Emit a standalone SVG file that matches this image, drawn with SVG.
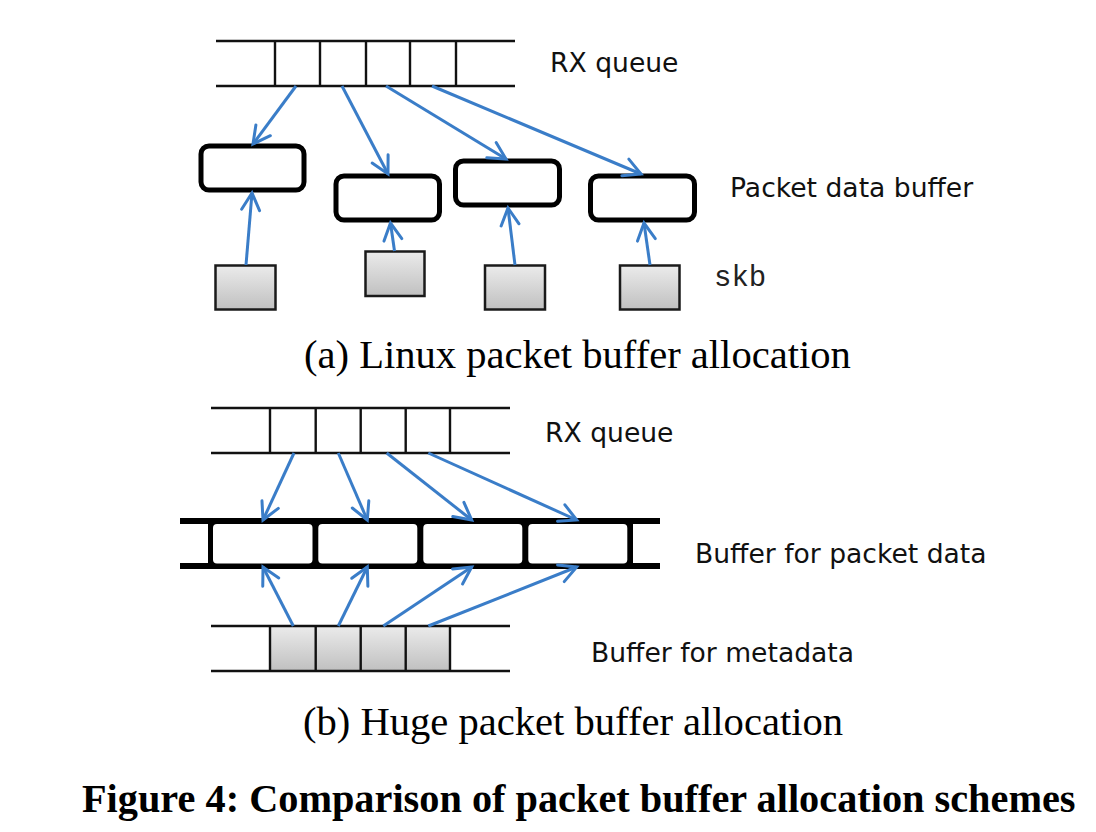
<svg xmlns="http://www.w3.org/2000/svg" width="1096" height="832" viewBox="0 0 1096 832">
  <defs>
    <linearGradient id="gray" x1="0" y1="0" x2="0" y2="1">
      <stop offset="0" stop-color="#ebebeb"/>
      <stop offset="1" stop-color="#c0c0c0"/>
    </linearGradient>
    <marker id="arr" markerUnits="userSpaceOnUse" viewBox="-22 -12 26 24" refX="0" refY="0" markerWidth="26" markerHeight="24" orient="auto" overflow="visible">
      <path d="M-17,-9 L0,0 L-17,9" fill="none" stroke="#3A7DC8" stroke-width="3" stroke-linecap="round" stroke-linejoin="miter"/>
    </marker>
    <style>
      .q { stroke: #111; stroke-width: 2.4; fill: none; }
      .box { stroke: #000; stroke-width: 5; fill: #fff; }
      .sq { stroke: #1a1a1a; stroke-width: 2.5; fill: url(#gray); }
      .c { stroke: #3A7DC8; stroke-width: 3; fill: none; marker-end: url(#arr); }
      .lbl { font-family: "DejaVu Sans", Verdana, sans-serif; font-size: 26.6px; fill: #111; }
      .mono { font-family: "Liberation Mono", "Courier New", monospace; font-size: 29px; fill: #222; }
      .cap { font-family: "Liberation Serif", "Times New Roman", serif; font-size: 40.6px; fill: #000; }
      .fig { font-family: "Liberation Serif", "Times New Roman", serif; font-size: 40.3px; font-weight: bold; fill: #000; }
    </style>
  </defs>
  <rect x="0" y="0" width="1096" height="832" fill="#fff"/>

  <!-- (a) -->
  <g id="rxqueue-a">
    <path class="q" d="M216,41 H515 M216,86 H515 M275,41 V86 M320,41 V86 M366,41 V86 M410,41 V86 M456,41 V86"/>
  </g>
  <g id="buf-a1"><rect class="box" x="201" y="146" width="103" height="44" rx="8"/></g>
  <g id="buf-a2"><rect class="box" x="336" y="176" width="103.5" height="44" rx="8"/></g>
  <g id="buf-a3"><rect class="box" x="455.5" y="161" width="104" height="44" rx="8"/></g>
  <g id="buf-a4"><rect class="box" x="590.5" y="176" width="104" height="44" rx="8"/></g>
  <g id="skb-a1"><rect class="sq" x="215.5" y="265.5" width="60" height="44"/></g>
  <g id="skb-a2"><rect class="sq" x="365.5" y="251.5" width="59" height="44.5"/></g>
  <g id="skb-a3"><rect class="sq" x="485" y="265.5" width="60" height="44"/></g>
  <g id="skb-a4"><rect class="sq" x="620" y="265.5" width="59.5" height="44"/></g>

  <g id="connectors-a">
    <line class="c" x1="296" y1="86" x2="253" y2="144"/>
    <line class="c" x1="342" y1="86" x2="388" y2="174"/>
    <line class="c" x1="386" y1="86" x2="506" y2="159"/>
    <line class="c" x1="432" y1="86" x2="641" y2="174"/>
    <line class="c" x1="246" y1="265" x2="252" y2="193"/>
    <line class="c" x1="394.5" y1="251" x2="390.5" y2="223"/>
    <line class="c" x1="515" y1="265" x2="508" y2="208"/>
    <line class="c" x1="650" y1="265" x2="644" y2="223"/>
  </g>

  <g id="labels-a">
    <text class="lbl" x="550" y="72">RX queue</text>
    <text class="lbl" x="730" y="197">Packet data buffer</text>
    <text class="mono" x="714" y="286">skb</text>
    <text class="cap" x="304" y="368">(a) Linux packet buffer allocation</text>
  </g>

  <!-- (b) -->
  <g id="rxqueue-b">
    <path class="q" d="M211,408 H510 M211,453 H510 M270,408 V453 M315.7,408 V453 M360.7,408 V453 M405.7,408 V453 M450,408 V453"/>
  </g>
  <g id="pktbuf-b">
    <rect x="208" y="518" width="425" height="51" fill="#000"/>
    <rect x="180" y="518" width="480" height="6" fill="#000"/>
    <rect x="180" y="563" width="480" height="6" fill="#000"/>
    <rect x="213" y="524" width="99.5" height="39.5" rx="4" fill="#fff"/>
    <rect x="318.3" y="524" width="99" height="39.5" rx="4" fill="#fff"/>
    <rect x="423.3" y="524" width="99" height="39.5" rx="4" fill="#fff"/>
    <rect x="528.3" y="524" width="99" height="39.5" rx="4" fill="#fff"/>
  </g>
  <g id="metabuf-b">
    <rect x="270" y="626" width="180" height="45" fill="url(#gray)"/>
    <path class="q" d="M211,626 H510 M211,671 H510 M270,626 V671 M315.7,626 V671 M360.7,626 V671 M405.7,626 V671 M450,626 V671"/>
  </g>

  <g id="connectors-b">
    <line class="c" x1="294" y1="453" x2="263" y2="520"/>
    <line class="c" x1="338.3" y1="453" x2="367.3" y2="520"/>
    <line class="c" x1="386.7" y1="453" x2="471.7" y2="520"/>
    <line class="c" x1="428.3" y1="453" x2="576.7" y2="520"/>
    <line class="c" x1="293.3" y1="626" x2="263" y2="567"/>
    <line class="c" x1="338.3" y1="626" x2="367.3" y2="567"/>
    <line class="c" x1="383.3" y1="626" x2="471.7" y2="567"/>
    <line class="c" x1="428.3" y1="626" x2="576.7" y2="567"/>
  </g>

  <g id="labels-b">
    <text class="lbl" x="545" y="442">RX queue</text>
    <text class="lbl" x="695" y="563">Buffer for packet data</text>
    <text class="lbl" x="591" y="662">Buffer for metadata</text>
    <text class="cap" x="303" y="735">(b) Huge packet buffer allocation</text>
  </g>

  <g id="figure-caption">
    <text class="fig" x="82" y="812">Figure 4: Comparison of packet buffer allocation schemes</text>
  </g>
</svg>
